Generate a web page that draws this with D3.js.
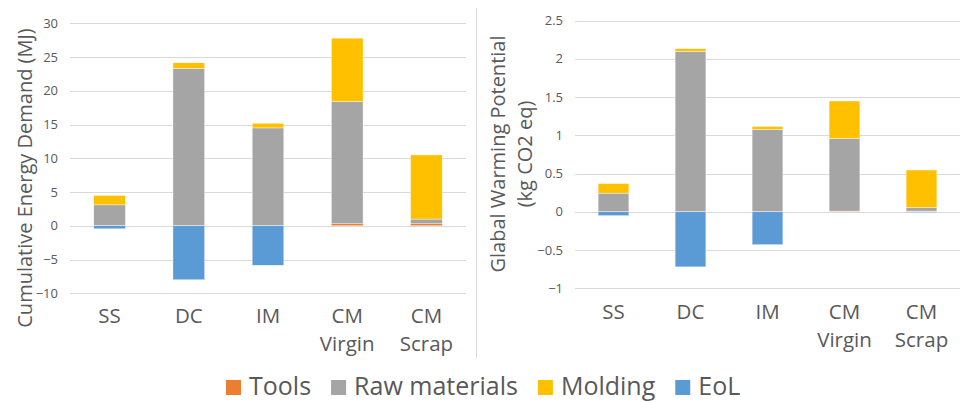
<!DOCTYPE html>
<html>
<head>
<meta charset="utf-8">
<script src="https://cdn.jsdelivr.net/npm/d3@7"></script>
<style>
  html, body { margin: 0; padding: 0; background: #fff; }
  svg { display: block; font-family: "Open Sans", sans-serif; }
</style>
</head>
<body>
<svg id="chart" width="960" height="402"></svg>
<script>
// ---- Data ----
const categories = ["SS", "DC", "IM", "CM\nVirgin", "CM\nScrap"];
const seriesNames = ["Tools", "Raw materials", "Molding", "EoL"];
const seriesColors = ["#ED7D31", "#A5A5A5", "#FFC000", "#5B9BD5"];

// Cumulative Energy Demand (MJ)
const cedTools   = [0, 0, 0, 0.3, 0.3];
const cedRaw     = [3.1, 23.3, 14.5, 18.1, 0.7];
const cedMolding = [1.4, 0.85, 0.7, 9.4, 9.5];
const cedEoL     = [-0.45, -8.0, -5.85, 0, 0];
const cedTicks   = [-10, -5, 0, 5, 10, 15, 20, 25, 30];

// Global Warming Potential (kg CO2 eq)
const gwpTools   = [0, 0, 0, 0.01, 0.01];
const gwpRaw     = [0.245, 2.1, 1.077, 0.95, 0.047];
const gwpMolding = [0.125, 0.035, 0.04, 0.49, 0.49];
const gwpEoL     = [-0.05, -0.72, -0.43, 0, -0.01];
const gwpTicks   = [-1, -0.5, 0, 0.5, 1, 1.5, 2, 2.5];

const svg = d3.select("#chart");
const textColor = "#595959";
const gridColor = "#D9D9D9";

function buildRows(t, r, m, e) {
  return categories.map((c, i) => ({
    cat: c, "Tools": t[i], "Raw materials": r[i], "Molding": m[i], "EoL": e[i]
  }));
}

function drawPanel(opts) {
  const g = svg.append("g");
  const x = d3.scaleBand().domain(categories).range([opts.x0, opts.x1]).padding(0);
  const y = d3.scaleLinear().domain(opts.domain).range([opts.yBottom, opts.yTop]);

  // gridlines
  g.append("g").selectAll("line").data(opts.ticks).join("line")
    .attr("x1", opts.x0).attr("x2", opts.x1)
    .attr("y1", d => Math.round(y(d)) + 0.5).attr("y2", d => Math.round(y(d)) + 0.5)
    .attr("stroke", gridColor).attr("stroke-width", 1);

  // tick labels
  g.append("g").selectAll("text").data(opts.ticks).join("text")
    .attr("x", opts.tickX).attr("y", d => y(d))
    .attr("dy", "0.35em")
    .attr("text-anchor", "end")
    .attr("font-size", 13)
    .attr("fill", textColor)
    .text(d => d3.format("")(d));

  // stacked bars
  const rows = buildRows(...opts.data);
  const stack = d3.stack().keys(seriesNames).offset(d3.stackOffsetDiverging);
  const layers = stack(rows);
  const bw = x.bandwidth() * 0.4;
  g.append("g").selectAll("g").data(layers).join("g")
    .attr("fill", (d, i) => seriesColors[i])
    .selectAll("rect").data(d => d).join("rect")
    .attr("x", d => x(d.data.cat) + (x.bandwidth() - bw) / 2)
    .attr("width", bw)
    .attr("y", d => y(Math.max(d[0], d[1])))
    .attr("height", d => Math.abs(y(d[0]) - y(d[1])))
    .attr("stroke", "#fff").attr("stroke-width", 0.4);

  // category labels (one text element per line)
  const labLines = [];
  categories.forEach(c => c.split("\n").forEach((l, i) => labLines.push({ c, l, i })));
  g.append("g").selectAll("text").data(labLines).join("text")
    .attr("x", d => x(d.c) + x.bandwidth() / 2)
    .attr("y", d => opts.labelY + d.i * 28)
    .attr("text-anchor", "middle")
    .attr("font-size", 20.5)
    .attr("fill", textColor)
    .text(d => d.l);

  // axis title
  const t = g.append("text")
    .attr("transform", `translate(${opts.titleX},${opts.titleY}) rotate(-90)`)
    .attr("text-anchor", "middle")
    .attr("font-size", 20)
    .attr("fill", textColor);
  opts.title.forEach((line, i) => {
    t.append("tspan").attr("x", 0).attr("y", i * 27).text(line);
  });
}

drawPanel({
  x0: 70, x1: 466, yTop: 23.3, yBottom: 293.3, domain: [-10, 30], ticks: cedTicks,
  tickX: 58, labelY: 323, titleX: 32, titleY: 178,
  title: ["Cumulative Energy Demand (MJ)"],
  data: [cedTools, cedRaw, cedMolding, cedEoL]
});

drawPanel({
  x0: 575, x1: 960, yTop: 20.7, yBottom: 288.3, domain: [-1, 2.5], ticks: gwpTicks,
  tickX: 563, labelY: 319, titleX: 505, titleY: 154,
  title: ["Glabal Warming Potential", "(kg CO2 eq)"],
  data: [gwpTools, gwpRaw, gwpMolding, gwpEoL]
});

// divider
svg.append("line")
  .attr("x1", 476.5).attr("x2", 476.5).attr("y1", 8).attr("y2", 358)
  .attr("stroke", gridColor).attr("stroke-width", 1);

// legend
const legend = svg.append("g");
let lx = 226;
seriesNames.forEach((name, i) => {
  legend.append("rect")
    .attr("x", lx).attr("y", 380).attr("width", 15).attr("height", 15)
    .attr("fill", seriesColors[i]);
  const txt = legend.append("text")
    .attr("x", lx + 23).attr("y", 395)
    .attr("font-size", 25).attr("fill", textColor)
    .text(name);
  lx += 23 + txt.node().getComputedTextLength() + 20;
});
</script>
</body>
</html>
